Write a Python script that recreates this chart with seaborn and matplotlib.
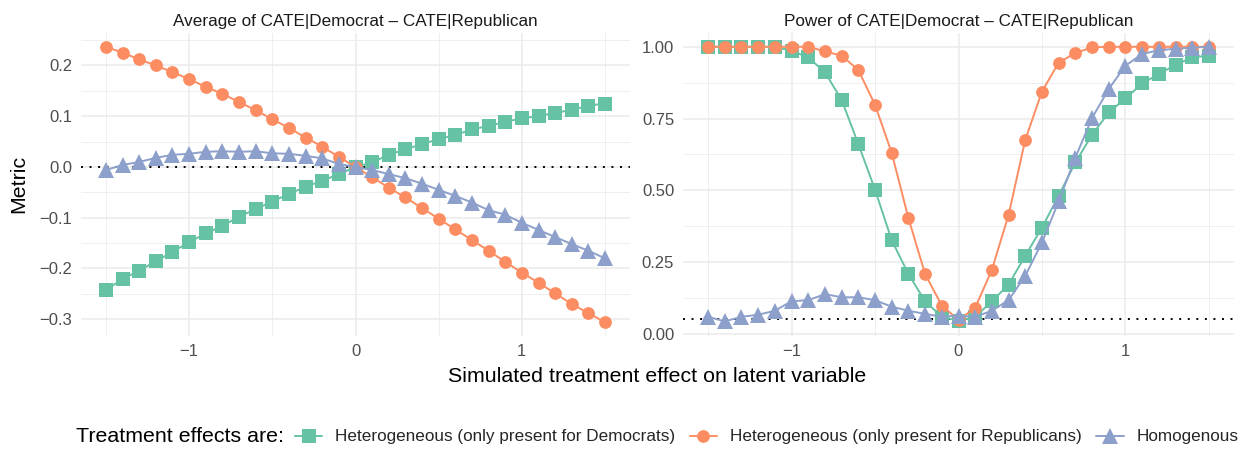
import numpy as np
import pandas as pd
import matplotlib
matplotlib.use("Agg")
import matplotlib.pyplot as plt
from matplotlib.lines import Line2D
from matplotlib.ticker import MultipleLocator
import seaborn as sns

# ---------------- data ----------------
effects = [round(-1.5 + 0.1 * i, 1) for i in range(31)]

series_names = [
    "Heterogeneous (only present for Democrats)",
    "Heterogeneous (only present for Republicans)",
    "Homogenous",
]

avg_dem = [-0.242, -0.221, -0.204, -0.186, -0.167, -0.148, -0.131, -0.116, -0.098, -0.083,
           -0.068, -0.053, -0.039, -0.027, -0.014, 0.000, 0.009, 0.024, 0.035, 0.045,
           0.055, 0.063, 0.074, 0.081, 0.089, 0.096, 0.100, 0.107, 0.112, 0.121, 0.125]
avg_rep = [0.237, 0.225, 0.212, 0.200, 0.187, 0.173, 0.158, 0.144, 0.128, 0.112,
           0.094, 0.077, 0.058, 0.040, 0.020, 0.000, -0.020, -0.041, -0.060, -0.081,
           -0.102, -0.123, -0.144, -0.165, -0.187, -0.208, -0.228, -0.249, -0.270, -0.288, -0.306]
avg_hom = [-0.006, 0.004, 0.010, 0.018, 0.024, 0.026, 0.030, 0.031, 0.030, 0.031,
           0.027, 0.026, 0.022, 0.017, 0.006, 0.000, -0.006, -0.014, -0.022, -0.033,
           -0.045, -0.057, -0.070, -0.085, -0.094, -0.110, -0.124, -0.138, -0.152, -0.165, -0.180]

pow_dem = [1.000, 1.000, 1.000, 1.000, 1.000, 0.986, 0.963, 0.911, 0.815, 0.661,
           0.502, 0.326, 0.208, 0.113, 0.059, 0.045, 0.059, 0.113, 0.171, 0.272,
           0.370, 0.481, 0.597, 0.693, 0.771, 0.820, 0.872, 0.905, 0.937, 0.963, 0.969]
pow_rep = [1.000, 1.000, 1.000, 1.000, 1.000, 1.000, 1.000, 0.984, 0.969, 0.919,
           0.798, 0.630, 0.403, 0.208, 0.098, 0.048, 0.090, 0.223, 0.414, 0.676,
           0.844, 0.945, 0.978, 0.998, 1.000, 1.000, 1.000, 1.000, 1.000, 1.000, 1.000]
pow_hom = [0.059, 0.043, 0.059, 0.066, 0.080, 0.113, 0.117, 0.138, 0.127, 0.127,
           0.117, 0.094, 0.080, 0.069, 0.059, 0.063, 0.059, 0.080, 0.117, 0.202,
           0.318, 0.461, 0.614, 0.752, 0.853, 0.934, 0.975, 0.988, 0.993, 0.997, 1.000]

panel_titles = ["Average of CATE|Democrat \u2013 CATE|Republican",
                "Power of CATE|Democrat \u2013 CATE|Republican"]
ref_lines = [0.0, 0.05]

# ---------------- build tidy frames ----------------
def tidy(vals_list):
    rows = []
    for name, vals in zip(series_names, vals_list):
        for x, v in zip(effects, vals):
            rows.append({"effect": x, "value": v, "series": name})
    return pd.DataFrame(rows)

df_avg = tidy([avg_dem, avg_rep, avg_hom])
df_pow = tidy([pow_dem, pow_rep, pow_hom])

# ---------------- style ----------------
sns.set_style("white")
plt.rcParams["font.family"] = ["Liberation Sans", "DejaVu Sans"]

palette = dict(zip(series_names, ["#66C2A5", "#FC8D62", "#8DA0CB"]))
markers = dict(zip(series_names, ["s", "o", "^"]))
msizes = {"s": 10.3, "o": 9.2, "^": 11.2}

W, H = 1247, 451
fig = plt.figure(figsize=(W / 100, H / 100), dpi=100)

def px_axes(x0, x1, y0, y1):
    return fig.add_axes([x0 / W, 1 - y1 / H, (x1 - x0) / W, (y1 - y0) / H])

ax1 = px_axes(81, 630, 33, 336)
ax2 = px_axes(683, 1234, 33, 336)

grid_col = "#EBEBEB"

for ax, df, title, ref in [(ax1, df_avg, panel_titles[0], ref_lines[0]),
                           (ax2, df_pow, panel_titles[1], ref_lines[1])]:
    for name in series_names:
        sub = df[df["series"] == name]
        sns.lineplot(data=sub, x="effect", y="value", ax=ax, color=palette[name],
                     marker=markers[name], markersize=msizes[markers[name]],
                     markeredgewidth=0, linewidth=1.4, legend=False,
                     estimator=None, sort=True, zorder=3)
    ax.axhline(ref, color="black", linestyle=(0, (1, 3.4)), linewidth=1.4, zorder=2)
    ax.set_xlim(-1.65, 1.65)
    ax.xaxis.set_major_locator(MultipleLocator(1))
    ax.xaxis.set_minor_locator(MultipleLocator(0.5))
    ax.grid(True, which="major", color=grid_col, linewidth=1.1, zorder=0)
    ax.grid(True, which="minor", color=grid_col, linewidth=0.55, zorder=0)
    ax.set_axisbelow(True)
    for s in ax.spines.values():
        s.set_visible(False)
    ax.tick_params(which="both", length=0, labelsize=12, colors="#4D4D4D")
    ax.tick_params(axis="y", pad=6.3)
    ax.tick_params(axis="x", pad=6)
    ax.set_xlabel("")
    ax.set_ylabel("")
    ax.set_title(title, fontsize=12.3, color="#1A1A1A", pad=5)

ax1.set_ylim(-0.333, 0.264)
ax1.yaxis.set_minor_locator(MultipleLocator(0.05))
ax1.set_yticks([-0.3, -0.2, -0.1, 0.0, 0.1, 0.2])
ax1.set_yticklabels(["\u22120.3", "\u22120.2", "\u22120.1", "0.0", "0.1", "0.2"])
ax1.set_xticks([-1, 0, 1])
ax1.set_xticklabels(["\u22121", "0", "1"])

ax2.set_ylim(-0.008, 1.048)
ax2.set_yticks([0.0, 0.25, 0.5, 0.75, 1.0])
ax2.yaxis.set_minor_locator(MultipleLocator(0.125))
ax2.set_yticklabels(["0.00", "0.25", "0.50", "0.75", "1.00"])
ax2.set_xticks([-1, 0, 1])
ax2.set_xticklabels(["\u22121", "0", "1"])

fig.text(19 / W, 1 - 184 / H, "Metric", rotation=90, ha="center", va="center",
         fontsize=15.4, color="black")
fig.text(657 / W, 1 - 377 / H, "Simulated treatment effect on latent variable",
         ha="center", va="center", fontsize=15.4, color="black")

# legend
fig.text(76 / W, 1 - 437 / H, "Treatment effects are:", ha="left", va="center",
         fontsize=15.4, color="black")
handles = [Line2D([0], [0], color=palette[n], marker=markers[n],
                  markersize=msizes[markers[n]], markeredgewidth=0, linewidth=1.4)
           for n in series_names]
fig.legend(handles, series_names, loc="center left",
           bbox_to_anchor=(295 / W, 1 - 437 / H), ncol=3, frameon=False,
           fontsize=12.3, handlelength=1.6, handletextpad=0.75, columnspacing=0.85,
           borderaxespad=0, borderpad=0)

fig.savefig("out.png", dpi=100)
